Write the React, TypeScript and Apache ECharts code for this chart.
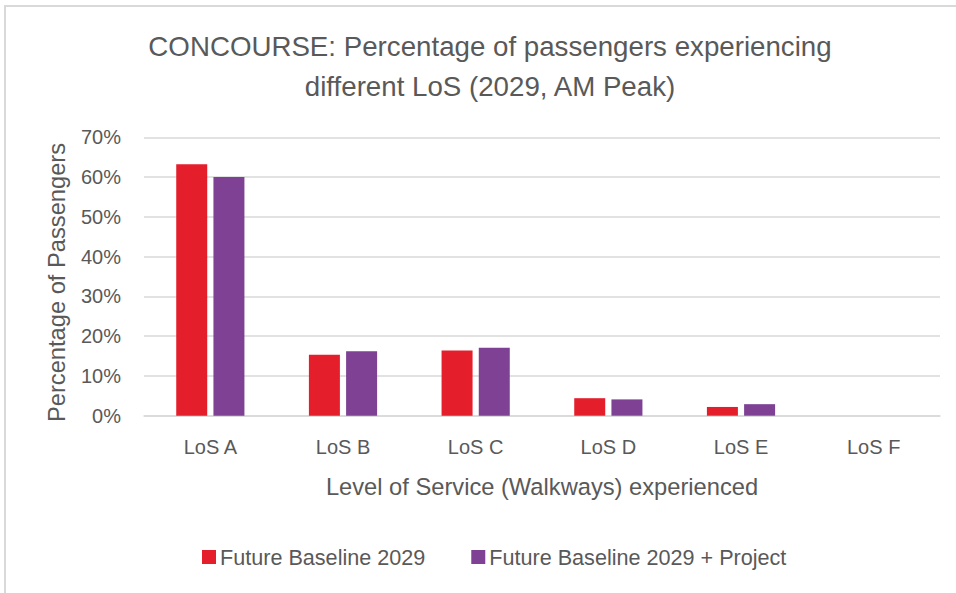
import React, { useEffect, useRef } from "react";
import * as echarts from "echarts";

const categories = ["LoS A", "LoS B", "LoS C", "LoS D", "LoS E", "LoS F"];
const baseline2029 = [0.632, 0.153, 0.164, 0.044, 0.022, 0];
const baselineProject = [0.6, 0.162, 0.171, 0.041, 0.029, 0];
const seriesNames = ["Future Baseline 2029", "Future Baseline 2029 + Project"];
const titleText = "CONCOURSE: Percentage of passengers experiencing\ndifferent LoS (2029, AM Peak)";
const yAxisTitle = "Percentage of Passengers";
const xAxisTitle = "Level of Service (Walkways) experienced";

const FONT = "'Liberation Sans', Arial, sans-serif";
const TEXT = "#595959";

export default function App() {
  const ref = useRef<HTMLDivElement>(null);
  useEffect(() => {
    if (!ref.current) return;
    const chart = echarts.init(ref.current, undefined, { renderer: "svg" });
    chart.setOption({
      animation: false,
      backgroundColor: "#ffffff",
      textStyle: { fontFamily: FONT },
      title: {
        text: titleText,
        left: 485,
        top: 21,
        textAlign: "center",
        textStyle: {
          fontFamily: FONT,
          fontSize: 27.7,
          lineHeight: 40,
          fontWeight: "normal",
          color: TEXT,
        },
      },
      grid: { left: 144, right: 16, top: 137.3, bottom: 177.3, containLabel: false },
      legend: {
        data: seriesNames,
        left: 197,
        top: 541,
        icon: "rect",
        itemWidth: 14,
        itemHeight: 14,
        itemGap: 46,
        textStyle: { fontFamily: FONT, fontSize: 21.6, color: TEXT, padding: [0, 0, 0, -1] },
      },
      xAxis: {
        type: "category",
        data: categories,
        axisTick: { show: false },
        axisLine: { lineStyle: { color: "#d9d9d9", width: 1.5 } },
        axisLabel: { fontFamily: FONT, fontSize: 20, color: TEXT, margin: 21 },
        name: xAxisTitle,
        nameLocation: "middle",
        nameGap: 59,
        nameTextStyle: { fontFamily: FONT, fontSize: 23.7, color: TEXT },
      },
      yAxis: {
        type: "value",
        min: 0,
        max: 0.7,
        interval: 0.1,
        axisLine: { show: false },
        axisTick: { show: false },
        splitLine: { lineStyle: { color: "#d9d9d9", width: 1.5 } },
        axisLabel: {
          fontFamily: FONT,
          fontSize: 20,
          color: TEXT,
          margin: 23,
          formatter: (v: number) => Math.round(v * 100) + "%",
        },
        name: yAxisTitle,
        nameLocation: "middle",
        nameGap: 75,
        nameTextStyle: { fontFamily: FONT, fontSize: 23.7, color: TEXT, padding: [0, 12, 0, 0] },
      },
      graphic: [
        { type: "line", shape: { x1: 4, y1: 6, x2: 956, y2: 6 }, style: { stroke: "#d9d9d9", lineWidth: 2 } },
        { type: "line", shape: { x1: 5, y1: 6, x2: 5, y2: 593 }, style: { stroke: "#d9d9d9", lineWidth: 2 } },
      ],
      series: [
        {
          name: seriesNames[0],
          type: "bar",
          data: baseline2029,
          barWidth: 31,
          barGap: "20%",
          itemStyle: { color: "#E41E2B" },
        },
        {
          name: seriesNames[1],
          type: "bar",
          data: baselineProject,
          barWidth: 31,
          barGap: "20%",
          itemStyle: { color: "#7E4194" },
        },
      ],
    });
    return () => chart.dispose();
  }, []);
  return (
    <div
      ref={ref}
      style={{ position: "fixed", left: 0, top: 0, width: 956, height: 593, background: "#fff" }}
    />
  );
}
